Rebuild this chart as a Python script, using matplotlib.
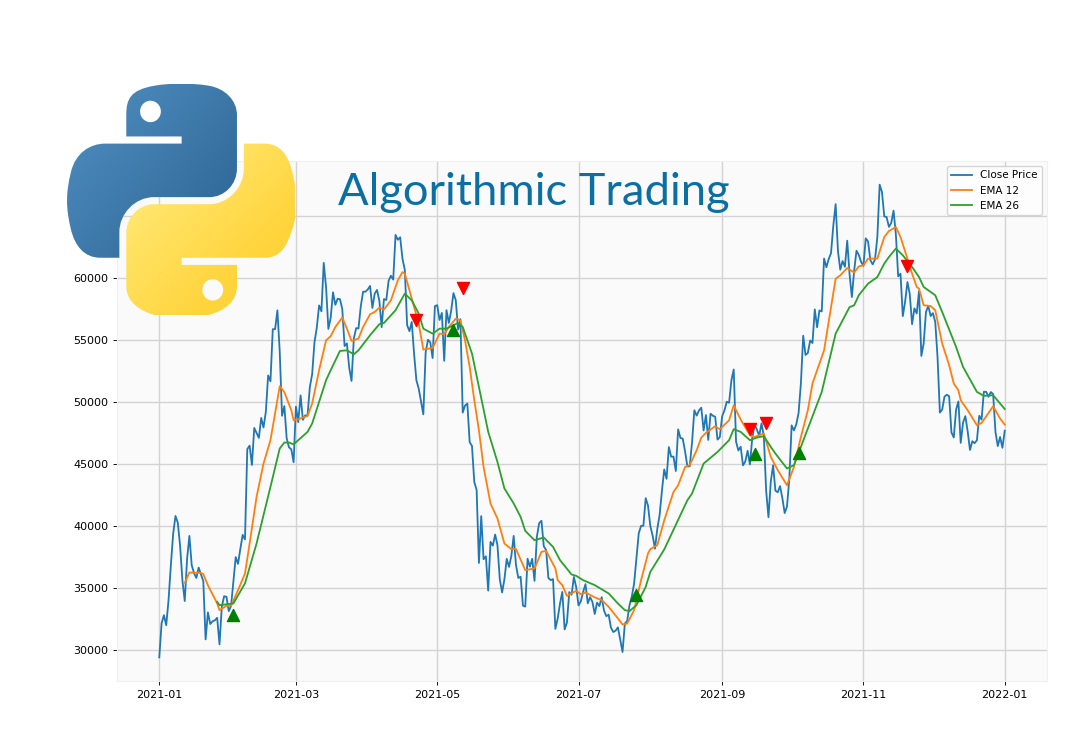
"""Close price with EMA crossovers and the Python logo on top."""
import re

import matplotlib
matplotlib.use("Agg")
import matplotlib.pyplot as plt
import numpy as np
import pandas as pd
from matplotlib.patches import PathPatch
from matplotlib.path import Path

close = [
    29374, 32127, 32782, 31971, 33992, 36824, 39371, 40797, 40254, 38356, 35566, 33922, 37316, 39187, 36825, 36178,
    35792, 36630, 36069, 35547, 30825, 33005, 32067, 32289, 32366, 32569, 30432, 33466, 34316, 34269, 33114, 33537,
    35510, 37472, 36926, 38144, 39266, 38903, 46196, 46481, 44918, 47909, 47504, 47105, 48717, 47945, 49199, 52149,
    51679, 55888, 55888, 57412, 54087, 48891, 49676, 47073, 46339, 46188, 45137, 49631, 48378, 50538, 48561, 48927,
    48912, 51206, 52246, 54824, 56008, 57805, 57332, 61243, 59302, 55907, 56804, 58870, 57858, 58346, 58313, 57523,
    54529, 54738, 52774, 51704, 55137, 55973, 55950, 57750, 58917, 58918, 59095, 59384, 57603, 58758, 59057, 58192,
    56048, 58323, 58245, 59793, 60204, 59893, 63503, 63109, 63314, 61572, 60683, 56216, 55724, 56473, 53906, 51762,
    51093, 50050, 49004, 54021, 55033, 54824, 53555, 57750, 57828, 56631, 57200, 53333, 57424, 56396, 57356, 58803,
    58232, 55859, 56704, 49150, 49716, 49880, 46760, 46456, 43537, 42909, 37002, 40782, 37304, 37536, 34770, 38705,
    38402, 39294, 38436, 35697, 34616, 35678, 37332, 36684, 37575, 39188, 36825, 35791, 35887, 33560, 33472, 37345,
    36702, 37334, 35552, 39097, 40218, 40406, 38347, 38053, 35787, 35615, 35698, 31676, 32505, 33723, 34662, 31637,
    32186, 34649, 34434, 35867, 35040, 33572, 33897, 34668, 35287, 33746, 34235, 33855, 32877, 33798, 33520, 34240,
    33155, 32702, 32822, 31780, 31421, 31533, 31796, 30817, 29807, 32110, 32313, 33581, 34292, 35350, 37337, 39406,
    39995, 40008, 42235, 41626, 39974, 39201, 38152, 39747, 40869, 42816, 44555, 43798, 46365, 45585, 45593, 44428,
    47793, 47096, 47047, 46004, 44801, 44802, 46717, 49339, 48905, 49321, 49546, 47706, 48952, 46942, 49058, 48897,
    48806, 46970, 47166, 48847, 49327, 50025, 49944, 51753, 52633, 46811, 46091, 46391, 44883, 45201, 46063, 44963,
    47092, 48176, 47783, 47267, 48278, 47260, 42843, 40693, 43574, 44895, 42839, 42716, 43208, 42235, 41034, 41564,
    43790, 48116, 47711, 48199, 49112, 51514, 55361, 53805, 53967, 54968, 54771, 57484, 56041, 57401, 57321, 61593,
    60892, 61553, 62026, 64261, 65992, 62210, 60692, 61393, 60930, 63039, 60363, 58482, 60622, 62227, 61888, 61319,
    61004, 63226, 62970, 61452, 61125, 61527, 63326, 67566, 66971, 64995, 64949, 64155, 64469, 65466, 63557, 60161,
    60368, 56942, 58119, 59697, 58730, 56289, 57569, 57159, 58960, 53726, 54721, 57274, 57776, 56950, 57184, 56480,
    53601, 49152, 49396, 50441, 50588, 50471, 47545, 47140, 49389, 50053, 46702, 48343, 48864, 47632, 46131, 46834,
    46681, 46914, 48889, 48588, 50838, 50820, 50429, 50809, 50640, 47588, 46444, 47178, 46306, 47686,
]

ema12_day = [
    11, 13, 18, 19, 21, 25, 26, 29, 31, 34, 37, 39, 42, 45, 48, 52, 54, 57, 58, 60, 64, 66, 69, 72, 74, 76, 79, 81, 83,
    86, 88, 91, 93, 95, 97, 100, 103, 105, 106, 108, 109, 112, 114, 118, 121, 123, 125, 128, 130, 132, 134, 136, 138,
    140, 143, 146, 149, 152, 154, 158, 162, 165, 167, 171, 172, 174, 176, 180, 182, 184, 188, 191, 194, 198, 200, 202,
    205, 208, 211, 212, 215, 218, 222, 224, 227, 229, 232, 234, 236, 240, 242, 246, 248, 251, 255, 257, 261, 264, 267,
    271, 274, 277, 280, 282, 287, 292, 294, 297, 300, 302, 304, 306, 310, 313, 315, 318, 320, 323, 325, 327, 328, 330,
    333, 335, 338, 341, 343, 345, 346, 349, 353, 355, 360, 363, 365,
]
ema12 = [
    35390, 36230, 36200, 36100, 35200, 33730, 33190, 33540, 33540, 34800, 36150, 38570, 42340, 45030, 46920, 51280,
    50800, 49340, 48530, 48610, 48880, 49880, 52570, 54990, 55320, 56060, 56830, 55930, 54940, 55130, 56070, 57090,
    57280, 57630, 57470, 58220, 59840, 60500, 60380, 59030, 58360, 56340, 54240, 54370, 55530, 55480, 56070, 56740,
    56610, 54990, 52840, 50150, 47720, 44760, 41800, 40590, 38570, 38120, 38120, 36420, 36560, 37900, 37980, 36560,
    35610, 35210, 34340, 34750, 34480, 34620, 34220, 34000, 33460, 32520, 32030, 32110, 33190, 35610, 37770, 38120,
    38440, 40450, 42740, 43280, 44760, 44900, 46110, 47130, 47510, 48050, 47810, 48530, 49740, 48590, 47320, 47180,
    47460, 45570, 44500, 43280, 44760, 47180, 49340, 51500, 54180, 59970, 60240, 60830, 60460, 60960, 61050, 61590,
    61590, 63330, 63820, 64140, 63330, 61590, 60380, 59300, 59170, 57820, 57760, 57420, 54730, 52980, 51500, 50950,
    50150, 49340, 48130, 48310, 49660, 48670, 48180,
]

ema26_day = [
    25, 26, 32, 37, 42, 48, 52, 54, 56, 58, 60, 64, 66, 72, 74, 78, 81, 84, 86, 91, 95, 97, 102, 106, 109, 112, 114,
    118, 121, 124, 129, 131, 135, 138, 142, 146, 149, 153, 156, 158, 162, 166, 170, 173, 178, 180, 183, 188, 194, 198,
    201, 203, 206, 210, 212, 218, 228, 230, 235, 241, 242, 246, 248, 251, 255, 258, 261, 264, 266, 271, 274, 277, 286,
    292, 298, 300, 302, 306, 310, 313, 315, 318, 321, 325, 328, 330, 335, 338, 344, 347, 353, 356, 360, 365,
]
ema26 = [
    33860, 33590, 33730, 35350, 38570, 43150, 46250, 46730, 46730, 46590, 46920, 47590, 48270, 51760, 52570, 54130,
    54180, 53860, 54180, 55400, 56290, 56390, 57420, 58760, 58220, 57150, 55930, 55530, 55930, 55930, 56390, 56070,
    53920, 51220, 47600, 45160, 43020, 41810, 40720, 39590, 38840, 39060, 38300, 37230, 36070, 35960, 35610, 35210,
    34540, 33730, 33190, 33110, 33590, 35070, 36280, 38090, 42070, 42610, 45030, 45970, 46160, 46920, 47810, 47590,
    46920, 47130, 47240, 46380, 45840, 44630, 44900, 46380, 50820, 55530, 57670, 57820, 58630, 59570, 60100, 61190,
    61720, 62400, 61860, 60910, 60100, 59300, 58630, 57280, 54450, 52840, 50820, 50500, 50550, 49440,
]

buy_day = [32, 127, 206, 257, 276]
buy_price = [32800, 55800, 34400, 45800, 45900]
sell_day = [111, 131, 255, 262, 323]
sell_price = [56670, 59200, 47800, 48300, 61000]

BLUE_PATH = (
    "M 54.918785,0.000919 C 50.335132,0.022217 45.957846,0.413137 42.106285,1.094669 "
    "30.760069,3.099173 28.700036,7.294771 28.700035,15.032169 v 10.21875 h 26.8125 v 3.40625 h -26.8125 -10.0625 "
    "c -7.792459,0 -14.615759,4.683717 -16.75,13.59375 -2.46182,10.212966 -2.571015,16.586023 0,27.25 "
    "1.905928,7.937852 6.457543,13.593748 14.25,13.59375 h 9.21875 v -12.25 c 0,-8.849902 7.657144,-16.656248 "
    "16.75,-16.65625 h 26.78125 c 7.454951,0 13.406253,-6.138164 13.40625,-13.625 v -25.53125 "
    "c 0,-7.266339 -6.12998,-12.724777 -13.40625,-13.9375 C 64.281548,0.327944 59.502438,-0.020379 54.918785,0.000919 Z "
    "m -14.5,8.21875 c 2.769547,0 5.03125,2.298646 5.03125,5.125 -2e-6,2.816336 -2.261703,5.09375 -5.03125,5.09375 "
    "-2.779476,-1e-6 -5.03125,-2.277415 -5.03125,-5.09375 0,-2.826353 2.251774,-5.125 5.03125,-5.125 Z"
)
YELLOW_PATH = (
    "M 85.637535,28.657169 v 11.90625 c 0,9.230755 -7.825895,16.999999 -16.75,17 h -26.78125 "
    "c -7.335833,0 -13.406249,6.278483 -13.40625,13.625 v 25.531247 c 0,7.266344 6.318588,11.540324 13.40625,13.625004 "
    "8.487331,2.49561 16.626237,2.94663 26.78125,0 6.750155,-1.95439 13.406253,-5.88761 13.40625,-13.625004 "
    "V 86.500919 h -26.78125 v -3.40625 h 26.78125 13.406254 c 7.792461,0 10.696251,-5.435408 13.406241,-13.59375 "
    "2.79933,-8.398886 2.74022,-16.475776 0,-27.25 -1.92578,-7.757441 -5.60387,-13.59375 -13.406241,-13.59375 Z "
    "m -15.0625,64.65625 c 2.779478,3e-6 5.03125,2.277417 5.03125,5.093747 -2e-6,2.826354 -2.251775,5.125004 "
    "-5.03125,5.125004 -2.76955,0 -5.03125,-2.29865 -5.03125,-5.125004 2e-6,-2.81633 2.261697,-5.093747 5.03125,-5.093747 Z"
)


def svg_to_path(d):
    """Small parser for the subset of SVG path commands the logo uses."""
    tokens = re.findall(r"[MmCcVvHhZz]|-?\d*\.?\d+(?:e-?\d+)?", d)
    verts, codes = [], []
    cur = np.zeros(2)
    start = cur.copy()
    cmd = None
    i = 0
    while i < len(tokens):
        if tokens[i].isalpha() and tokens[i] != "e":
            cmd = tokens[i]
            i += 1
            if cmd in "Zz":
                verts.append(start.copy())
                codes.append(Path.CLOSEPOLY)
                cur = start.copy()
                continue
        if cmd in "Mm":
            p = np.array([float(tokens[i]), float(tokens[i + 1])])
            cur = cur + p if cmd == "m" else p
            start = cur.copy()
            verts.append(cur.copy())
            codes.append(Path.MOVETO)
            i += 2
        elif cmd in "Cc":
            for k in range(3):
                p = np.array([float(tokens[i + 2 * k]), float(tokens[i + 2 * k + 1])])
                verts.append(cur + p if cmd == "c" else p)
                codes.append(Path.CURVE4)
            cur = verts[-1].copy()
            i += 6
        elif cmd in "Vv":
            v = float(tokens[i])
            cur = np.array([cur[0], cur[1] + v if cmd == "v" else v])
            verts.append(cur.copy())
            codes.append(Path.LINETO)
            i += 1
        elif cmd in "Hh":
            v = float(tokens[i])
            cur = np.array([cur[0] + v if cmd == "h" else v, cur[1]])
            verts.append(cur.copy())
            codes.append(Path.LINETO)
            i += 1
    return Path(np.array(verts), codes)


def gradient_fill(ax, d, c0, c1, p0, p1):
    """Fill an SVG path with a linear gradient from c0 at p0 to c1 at p1."""
    xs, ys = np.meshgrid(np.linspace(0, 111, 300), np.linspace(0, 111, 300))
    dx, dy = p1[0] - p0[0], p1[1] - p0[1]
    t = ((xs - p0[0]) * dx + (ys - p0[1]) * dy) / (dx * dx + dy * dy)
    t = np.clip(t, 0, 1)[..., None]
    rgb = (1 - t) * np.array(matplotlib.colors.to_rgb(c0)) + t * np.array(matplotlib.colors.to_rgb(c1))
    im = ax.imshow(rgb, extent=(0, 111, 111, 0), interpolation="bilinear", aspect="auto")
    patch = PathPatch(svg_to_path(d), transform=ax.transData, fc="none", ec="none")
    ax.add_patch(patch)
    im.set_clip_path(patch)


dates = pd.date_range("2021-01-01", periods=len(close))
start = pd.Timestamp("2021-01-01")


def to_dates(days):
    return [start + pd.Timedelta(days=d) for d in days]


plt.rcParams.update({
    "font.size": 8,
    "lines.linewidth": 1.3,
    "xtick.major.size": 2.8,
    "ytick.major.size": 2.8,
    "xtick.major.width": 0.64,
    "ytick.major.width": 0.64,
    "legend.fontsize": 7.5,
})

W, H = 1068, 753
fig = plt.figure(figsize=(W / 100, H / 100), dpi=100)
ax = fig.add_axes([117 / W, 1 - 681 / H, 930 / W, 520 / H])
ax.set_facecolor("#fafafa")
ax.plot(dates, close, label="Close Price", color="tab:blue")
ax.plot(to_dates(ema12_day), ema12, label="EMA 12", color="tab:orange")
ax.plot(to_dates(ema26_day), ema26, label="EMA 26", color="tab:green")
ax.scatter(to_dates(buy_day), buy_price, marker="^", color="green", s=75, zorder=3)
ax.scatter(to_dates(sell_day), sell_price, marker="v", color="red", s=75, zorder=3)
ax.grid(True, color="lightgray", lw=1)
ax.set_axisbelow(True)
for s in ax.spines.values():
    s.set_color("#f0f0f0")
ax.legend(loc="upper right")

fig.text(338 / W, 1 - 205 / H, "Algorithmic Trading", family="Lato", fontsize=32.6, color="#0b6fa4",
         ha="left", va="baseline")

logo = fig.add_axes([67 / W, 1 - 315 / H, 228 / W, 231.5 / H])
gradient_fill(logo, BLUE_PATH, "#5291c4", "#306998", (0, 0), (75, 65))
gradient_fill(logo, YELLOW_PATH, "#ffe873", "#ffd43b", (35, 50), (80, 95))
logo.set_xlim(0, 110.4)
logo.set_ylim(110.4, 0)
logo.axis("off")

fig.savefig("out.png", dpi=100)
plt.close(fig)
